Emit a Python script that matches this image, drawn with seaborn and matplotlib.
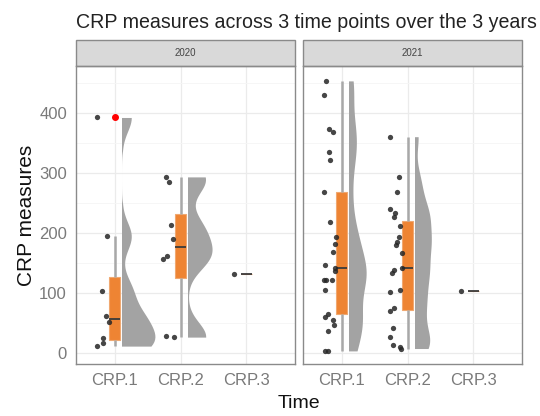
import numpy as np
import pandas as pd
import matplotlib
matplotlib.use("Agg")
import matplotlib.pyplot as plt
import seaborn as sns
from matplotlib import transforms as mtrans
from matplotlib.patches import Rectangle

# ---------------- data ----------------
years = ["2020", "2021"]
time_points = ["CRP.1", "CRP.2", "CRP.3"]

crp_2020_t1 = [392, 194, 103, 61, 52, 24, 16, 11]
crp_2020_t2 = [293, 285, 213, 189, 162, 156, 28, 26]
crp_2020_t3 = [132]
crp_2021_t1 = [453, 430, 372, 368, 335, 321, 267, 218, 193, 181, 168, 146, 142,
               137, 121, 121, 121, 104, 65, 60, 55, 46, 37, 3, 3]
crp_2021_t2 = [360, 292, 268, 239, 233, 227, 211, 193, 185, 180, 167, 142, 138,
               133, 104, 102, 74, 70, 41, 27, 13, 10, 7]
crp_2021_t3 = [103]

title = "CRP measures across 3 time points over the 3 years"
y_label = "CRP measures"
x_label = "Time"
y_ticks = [0, 100, 200, 300, 400]

series = {
    ("2020", "CRP.1"): crp_2020_t1, ("2020", "CRP.2"): crp_2020_t2, ("2020", "CRP.3"): crp_2020_t3,
    ("2021", "CRP.1"): crp_2021_t1, ("2021", "CRP.2"): crp_2021_t2, ("2021", "CRP.3"): crp_2021_t3,
}
rows = []
for (yr, tp), vals in series.items():
    for v in vals:
        rows.append({"year": yr, "time": tp, "value": v})
df = pd.DataFrame(rows)

# ---------------- style ----------------
sns.set_theme(style="white")
plt.rcParams["font.family"] = ["Liberation Sans", "DejaVu Sans"]

W, H = 540, 416
fig = plt.figure(figsize=(W / 100, H / 100), dpi=100)


def rect(l, t, r, b):
    return [l / W, 1 - b / H, (r - l) / W, (b - t) / H]


ax1 = fig.add_axes(rect(76, 66, 295, 364))
ax2 = fig.add_axes(rect(303, 66, 522, 364), sharey=ax1)

violin_width = {"2020": 1.0, "2021": 0.52}
grey_violin = "#a3a3a3"
box_orange = "#EE8433"
violin_shift = 0.11
point_shift = -0.18


def nrd0(kde):
    x = np.asarray(kde.dataset).ravel()
    sd = x.std(ddof=1)
    q75, q25 = np.percentile(x, [75, 25])
    lo = min(sd, (q75 - q25) / 1.34)
    if lo <= 0:
        lo = sd
    bw = 0.9 * lo * len(x) ** -0.2
    return bw / sd


for ax, yr in zip([ax1, ax2], years):
    d = df[df["year"] == yr]
    counts = d.groupby("time")["value"].transform("count")
    dv = d[counts > 1]

    # violins, clipped to their right half -> half violins
    n0 = len(ax.collections)
    sns.violinplot(data=dv, x="time", y="value", order=time_points, inner=None, cut=0,
                   bw_method=nrd0, bw_adjust=0.5, density_norm="area",
                   width=violin_width[yr], color=grey_violin, saturation=1,
                   linewidth=0, ax=ax)
    tr = mtrans.Affine2D().translate(violin_shift, 0) + ax.transData
    for c in ax.collections[n0:]:
        verts = c.get_paths()[0].vertices
        center = round(float(np.mean(verts[:, 0])))
        c.set_transform(tr)
        c.set_clip_path(Rectangle((center, -1000), 1.0, 3000, transform=tr))
        c.set_zorder(2)

    # boxplots
    sns.boxplot(data=d, x="time", y="value", order=time_points, width=0.17,
                color=box_orange, saturation=1, linecolor="#b0b0b0", linewidth=1,
                flierprops=dict(marker="o", markerfacecolor="red", markeredgecolor="red",
                                markersize=4),
                medianprops=dict(color="#3a3a3a", linewidth=1.3),
                whiskerprops=dict(color="#a8a8a8", linewidth=1.8),
                capprops=dict(linewidth=0),
                boxprops=dict(edgecolor="#f0a870", linewidth=0.8),
                ax=ax, zorder=3)

    # jittered points
    np.random.seed(7 if yr == "2020" else 11)
    n0 = len(ax.collections)
    sns.stripplot(data=d, x="time", y="value", order=time_points, jitter=0.1,
                  size=3.8, color="#262626", alpha=0.85, linewidth=0, ax=ax, zorder=4)
    for c in ax.collections[n0:]:
        c.set_offset_transform(mtrans.Affine2D().translate(point_shift, 0) + ax.transData)

    ax.set_xlim(-0.59, 2.74)
    ax.set_ylim(-18.8, 477.8)
    ax.set_xlabel("")
    ax.set_ylabel("")
    ax.set_yticks(y_ticks)
    ax.set_yticks(np.arange(50, 500, 100), minor=True)
    ax.grid(True, which="major", color="#ebebeb", linewidth=0.9)
    ax.grid(True, which="minor", axis="y", color="#f5f5f5", linewidth=0.6)
    ax.set_axisbelow(True)
    for s in ax.spines.values():
        s.set_visible(True)
        s.set_color("#8a8a8a")
        s.set_linewidth(1.0)
    ax.tick_params(axis="both", which="major", length=3.5, width=0.9, color="#8a8a8a",
                   labelcolor="#7a7a7a", labelsize=12, pad=3)
    ax.tick_params(axis="y", which="minor", length=0)

    # facet strip
    sh = 26 / 298
    ax.add_patch(Rectangle((0, 1), 1, sh, transform=ax.transAxes, clip_on=False,
                           facecolor="#d9d9d9", edgecolor="#8a8a8a", linewidth=1.0))
    ax.text(0.5, 1 + sh / 2, yr, transform=ax.transAxes, ha="center", va="center",
            fontsize=7, color="#444444")

ax2.tick_params(axis="y", which="both", length=0, labelleft=False)

fig.text(76 / W, 1 - 22 / H, title, fontsize=14.1, color="#222222", ha="left", va="center")
fig.text(27 / W, 1 - 215 / H, y_label, fontsize=15, rotation=90, ha="center", va="center",
         color="#111111")
fig.text(299 / W, 1 - 403 / H, x_label, fontsize=14, ha="center", va="center", color="#111111")

fig.savefig("out.png", dpi=100)
